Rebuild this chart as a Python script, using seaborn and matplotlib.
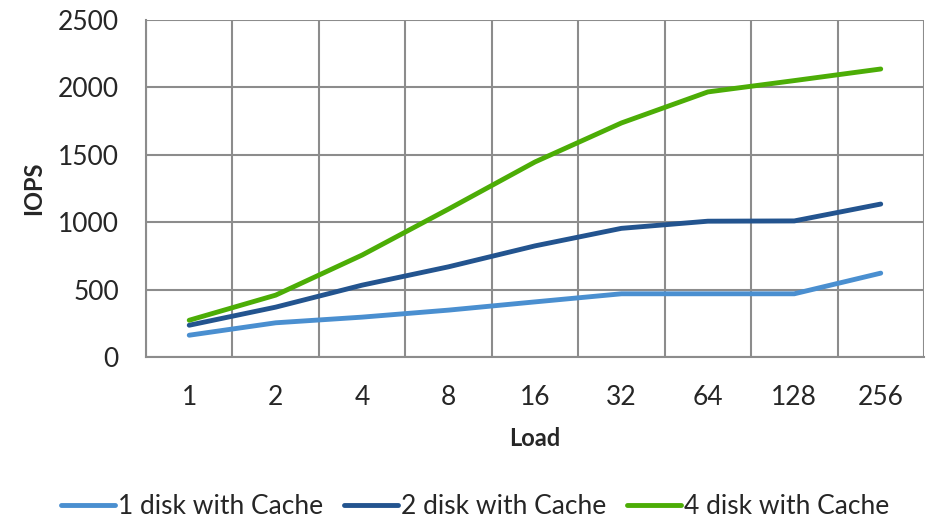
import pandas as pd
import seaborn as sns
import matplotlib.pyplot as plt
from matplotlib.ticker import FixedLocator

# values
loads = ['1', '2', '4', '8', '16', '32', '64', '128', '256']
disk1 = [163, 255, 297, 349, 410, 470, 470, 470, 623]
disk2 = [237, 371, 534, 670, 825, 955, 1008, 1010, 1135]
disk4 = [274, 460, 757, 1098, 1447, 1736, 1966, 2050, 2136]
series_names = ['1 disk with Cache', '2 disk with Cache', '4 disk with Cache']
colors = ['#4a8fd0', '#23548f', '#4cad06']

df = pd.DataFrame({'Load': loads * 3,
                   'IOPS': disk1 + disk2 + disk4,
                   'Series': [s for s in series_names for _ in loads]})

sns.set_style('white')
plt.rcParams['font.family'] = ['Lato', 'DejaVu Sans']

fig = plt.figure(figsize=(9.3, 5.23), dpi=100)
ax = fig.add_axes([0.157, 0.317, 0.8365, 0.645])

sns.lineplot(data=df, x='Load', y='IOPS', hue='Series', palette=colors,
             linewidth=3.5, sort=False, ax=ax, solid_capstyle='round')

ax.set_xlim(-0.5, len(loads) - 0.5)
ax.set_ylim(0, 2500)
ax.set_yticks(range(0, 2501, 500))
ax.xaxis.set_minor_locator(FixedLocator([i - 0.5 for i in range(len(loads) + 1)]))

grid_col = '#8c8c8c'
ax.grid(False)
ax.grid(True, which='minor', axis='x', color=grid_col, linewidth=1.5)
ax.grid(True, which='major', axis='y', color=grid_col, linewidth=1.5)
ax.set_axisbelow(True)

for side in ['top', 'right']:
    ax.spines[side].set_visible(False)
for side in ['left', 'bottom']:
    ax.spines[side].set_color(grid_col)
    ax.spines[side].set_linewidth(1.5)

ax.tick_params(axis='x', which='major', length=0, pad=20, labelsize=19)
ax.tick_params(axis='x', which='minor', length=6.5, width=1.5, color=grid_col)
ax.tick_params(axis='y', length=6.5, width=1.5, color=grid_col, labelsize=19, pad=13)

ax.set_xlabel('Load', fontsize=17, fontweight='bold', labelpad=12)
ax.set_ylabel('IOPS', fontsize=17, fontweight='bold', labelpad=9)

handles, labels = ax.get_legend_handles_labels()
ax.get_legend().remove()
fig.legend(handles, labels, loc='center', bbox_to_anchor=(475 / 930, 1 - 507 / 523),
           ncol=3, frameon=False, fontsize=19, handlelength=2.05,
           handletextpad=0.1, columnspacing=0.8)

plt.savefig('out.png', dpi=100)
